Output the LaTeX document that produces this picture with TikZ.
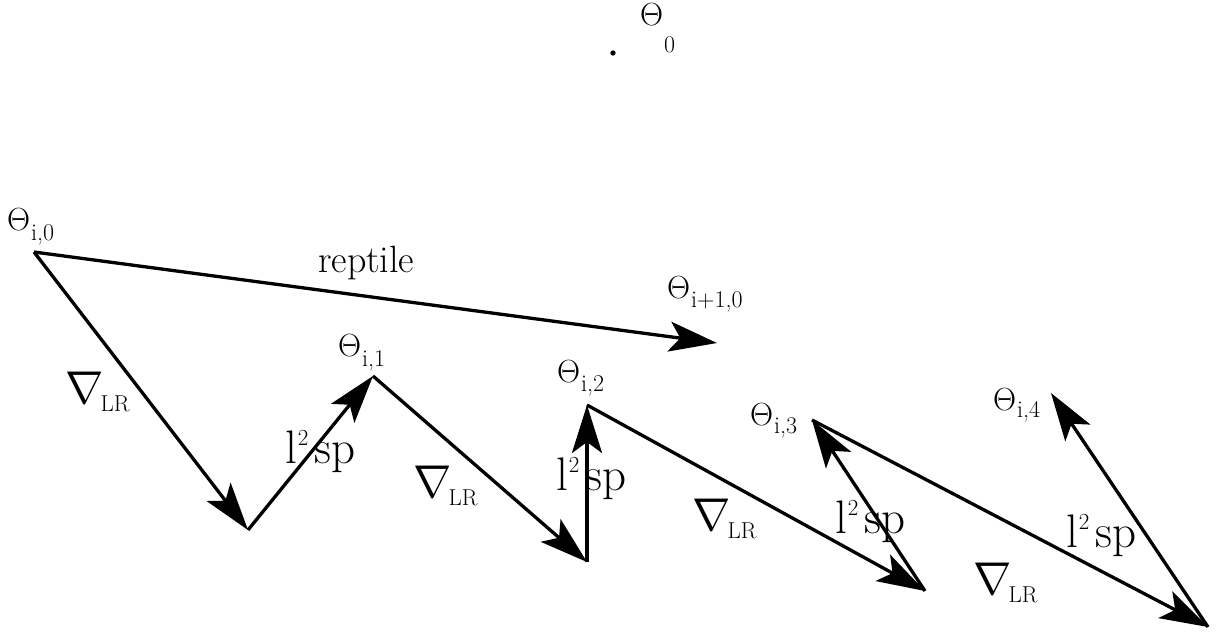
\RequirePackage{fix-cm}
\documentclass[tikz,border=0pt]{standalone}
\usetikzlibrary{arrows.meta}
\newcommand\thlab[2]{$\Theta$\kern1pt\raisebox{-#2}{\fontsize{24}{24}\selectfont #1}}
\newcommand\nablab{{\fontsize{46}{46}\selectfont$\nabla$}\kern-3pt\raisebox{-8pt}{\fontsize{23}{23}\selectfont LR}}
\newcommand\lsp{l\kern1pt\raisebox{18pt}{\fontsize{23}{23}\selectfont 2}\kern6pt sp}
\begin{document}
\begin{tikzpicture}[x=1pt,y=-1pt,
  arr/.style={line width=3.3pt,-{Stealth[length=48pt,width=30pt,inset=11pt]}},
  th/.style={anchor=base west,inner sep=0pt,font=\fontsize{32}{32}\selectfont},
  nlab/.style={anchor=base west,inner sep=0pt},
  slab/.style={anchor=base west,inner sep=0pt,font=\fontsize{47}{47}\selectfont},
  rlab/.style={anchor=base west,inner sep=0pt,font=\fontsize{38}{38}\selectfont}]
\useasboundingbox (0,0) rectangle (1216,632);
% points
\coordinate (dot) at (613,53);
\coordinate (p0) at (34,252);
\coordinate (p1) at (248,530);
\coordinate (q1) at (373,376);
\coordinate (p2) at (587,562);
\coordinate (q2) at (587,405);
\coordinate (p3) at (925,591);
\coordinate (q3) at (812,420);
\coordinate (p4) at (1208,627);
\coordinate (q4) at (1051,393);
\coordinate (r1) at (717,343);
% theta_0
\fill (dot) circle (2.7pt);
\node[th] (t0) at (640,25) {\thlab{0}{27pt}};
% labels
\node[th] (ti0) at (7,230) {\thlab{i,0}{10pt}};
\node[th] (ti10) at (667,298) {\thlab{i+1,0}{9pt}};
\node[th] (ti1) at (338,356) {\thlab{i,1}{10pt}};
\node[th] (ti2) at (557,382) {\thlab{i,2}{9pt}};
\node[th] (ti3) at (750,425) {\thlab{i,3}{8pt}};
\node[th] (ti4) at (993,410) {\thlab{i,4}{7pt}};
\node[rlab] (rep) at (318,272) {reptile};
% arrows
\draw[arr] (p0) -- (r1);
\draw[arr] (p0) -- (p1);
\draw[arr] (p1) -- (q1);
\draw[arr] (q1) -- (p2);
\draw[arr] (p2) -- (q2);
\draw[arr] (q2) -- (p3);
\draw[arr] (p3) -- (q3);
\draw[arr] (q3) -- (p4);
\draw[arr] (p4) -- (q4);
% gradient labels
\node[nlab] (g1) at (65,403) {\nablab};
\node[nlab] (g2) at (413,497) {\nablab};
\node[nlab] (g3) at (692,530) {\nablab};
\node[nlab] (g4) at (973,594) {\nablab};
% l2sp labels
\node[slab] (s1) at (285,463) {\lsp};
\node[slab] (s2) at (556,490) {\lsp};
\node[slab] (s3) at (835,533) {\lsp};
\node[slab] (s4) at (1066,547) {\lsp};
\end{tikzpicture}
\end{document}
